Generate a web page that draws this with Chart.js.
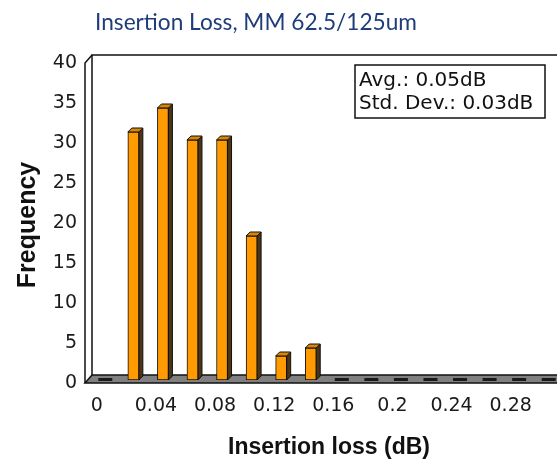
<!DOCTYPE html>
<html>
<head>
<meta charset="utf-8">
<title>Insertion Loss histogram</title>
<script src="https://cdn.jsdelivr.net/npm/chart.js@4.4.1/dist/chart.umd.min.js"></script>
<style>
  html, body { margin: 0; padding: 0; background: #fff; overflow: hidden; }
  #wrap { position: absolute; left: 0; top: 0; width: 580px; height: 462px; }
</style>
</head>
<body>
<div id="wrap"><canvas id="lossChart" width="580" height="462"></canvas></div>
<script>
// histogram bins (dB) and counts
var bins = ['0', '0.02', '0.04', '0.06', '0.08', '0.1', '0.12', '0.14',
            '0.16', '0.18', '0.2', '0.22', '0.24', '0.26', '0.28', '0.3'];
var counts = [0, 31, 34, 30, 30, 18, 3, 4, 0, 0, 0, 0, 0, 0, 0, 0];
var xTickLabels = ['0', '', '0.04', '', '0.08', '', '0.12', '',
                   '0.16', '', '0.2', '', '0.24', '', '0.28', ''];
var yMax = 40, yStep = 5;
var statLines = ['Avg.: 0.05dB', 'Std. Dev.: 0.03dB'];
var chartTitle = 'Insertion Loss, MM 62.5/125um';
var xTitle = 'Insertion loss (dB)';
var yTitle = 'Frequency';

var ink = '#111';
// depth of the box and where the bars sit inside it
var depthX = 7, depthY = 8;
var barShiftX = 4, barShiftY = -3;

var box3d = {
    id: 'box3d',
    beforeDatasetsDraw: function (chart) {
        var ctx = chart.ctx, a = chart.chartArea;
        ctx.save();
        ctx.lineWidth = 1.5;
        ctx.strokeStyle = ink;

        // back wall
        ctx.beginPath();
        ctx.moveTo(a.left + depthX, a.bottom - depthY);
        ctx.lineTo(a.left + depthX, a.top - depthY);
        ctx.lineTo(a.right + depthX, a.top - depthY);
        ctx.stroke();

        // floor
        ctx.beginPath();
        ctx.moveTo(a.left, a.bottom);
        ctx.lineTo(a.left + depthX, a.bottom - depthY);
        ctx.lineTo(a.right + depthX, a.bottom - depthY);
        ctx.lineTo(a.right, a.bottom);
        ctx.closePath();
        ctx.fillStyle = '#808080';
        ctx.fill();
        ctx.stroke();
        ctx.restore();

        // bars stand in the middle of the floor; kept until afterDatasetsDraw
        ctx.save();
        ctx.translate(barShiftX, barShiftY);
        ctx.save();
        ctx.strokeStyle = ink;
        ctx.lineWidth = 1;
        var meta = chart.getDatasetMeta(0);
        var dx = 4, dy = 4;
        meta.data.forEach(function (bar, i) {
            var p = bar.getProps(['x', 'y', 'base', 'width'], true);
            var half = p.width / 2;
            if (!counts[i]) {
                ctx.fillStyle = '#1a1a1a';
                ctx.fillRect(p.x - half, p.base - 2, p.width + 3, 3);
                return;
            }
            // right side
            ctx.beginPath();
            ctx.moveTo(p.x + half, p.y);
            ctx.lineTo(p.x + half + dx, p.y - dy);
            ctx.lineTo(p.x + half + dx, p.base - dy);
            ctx.lineTo(p.x + half, p.base);
            ctx.closePath();
            ctx.fillStyle = '#4d3414';
            ctx.fill();
            ctx.stroke();
            // top
            ctx.beginPath();
            ctx.moveTo(p.x - half, p.y);
            ctx.lineTo(p.x - half + dx, p.y - dy);
            ctx.lineTo(p.x + half + dx, p.y - dy);
            ctx.lineTo(p.x + half, p.y);
            ctx.closePath();
            ctx.fillStyle = '#d98600';
            ctx.fill();
            ctx.stroke();
        });
        ctx.restore();
    },
    afterDatasetsDraw: function (chart) {
        chart.ctx.restore();
    },
    afterDraw: function (chart) {
        var ctx = chart.ctx, a = chart.chartArea;
        ctx.save();
        ctx.strokeStyle = ink;
        ctx.lineWidth = 1.5;
        // front y axis and its corner to the back wall
        ctx.beginPath();
        ctx.moveTo(a.left, a.bottom);
        ctx.lineTo(a.left, a.top);
        ctx.lineTo(a.left + depthX, a.top - depthY);
        ctx.stroke();

        // stats box
        ctx.fillStyle = '#fff';
        ctx.fillRect(355, 65, 190, 53);
        ctx.strokeRect(355, 65, 190, 53);
        ctx.fillStyle = ink;
        ctx.font = '20px "DejaVu Sans"';
        ctx.textBaseline = 'alphabetic';
        ctx.textAlign = 'left';
        ctx.fillText(statLines[0], 359, 86);
        ctx.fillText(statLines[1], 359, 109);

        // axis titles
        ctx.font = 'bold 23px "Liberation Sans"';
        ctx.textAlign = 'center';
        ctx.fillText(xTitle, 329, 454);
        ctx.save();
        ctx.translate(35, 225);
        ctx.rotate(-Math.PI / 2);
        ctx.font = 'bold 25px "Liberation Sans"';
        ctx.fillText(yTitle, 0, 0);
        ctx.restore();

        // heading
        ctx.fillStyle = '#1f3d7a';
        ctx.font = '23px Lato';
        ctx.textAlign = 'center';
        ctx.textBaseline = 'middle';
        ctx.fillText(chartTitle, 256, 23, 322);
        ctx.restore();
    }
};

var tickFont = { family: 'DejaVu Sans', size: 19 };

new Chart(document.getElementById('lossChart'), {
    type: 'bar',
    data: {
        labels: bins,
        datasets: [{
            data: counts,
            backgroundColor: '#ff9a00',
            borderColor: ink,
            borderWidth: 1,
            borderSkipped: false,
            barThickness: 11
        }]
    },
    options: {
        responsive: false,
        animation: false,
        layout: { padding: { top: 63, right: 22, bottom: 0, left: 0 } },
        plugins: {
            legend: { display: false },
            tooltip: { enabled: false }
        },
        scales: {
            x: {
                offset: true,
                grid: { display: false, drawTicks: false },
                border: { display: false },
                ticks: {
                    autoSkip: false,
                    maxRotation: 0,
                    labelOffset: -3,
                    padding: 12,
                    color: '#1a1a1a',
                    font: tickFont,
                    callback: function (v, i) { return xTickLabels[i]; }
                },
                afterFit: function (s) { s.height = 79; }
            },
            y: {
                min: 0,
                max: yMax,
                grid: { display: false, drawTicks: false },
                border: { display: false },
                ticks: {
                    stepSize: yStep,
                    padding: 8,
                    color: '#1a1a1a',
                    font: tickFont
                },
                afterFit: function (s) { s.width = 85; }
            }
        }
    },
    plugins: [box3d]
});
</script>
</body>
</html>
